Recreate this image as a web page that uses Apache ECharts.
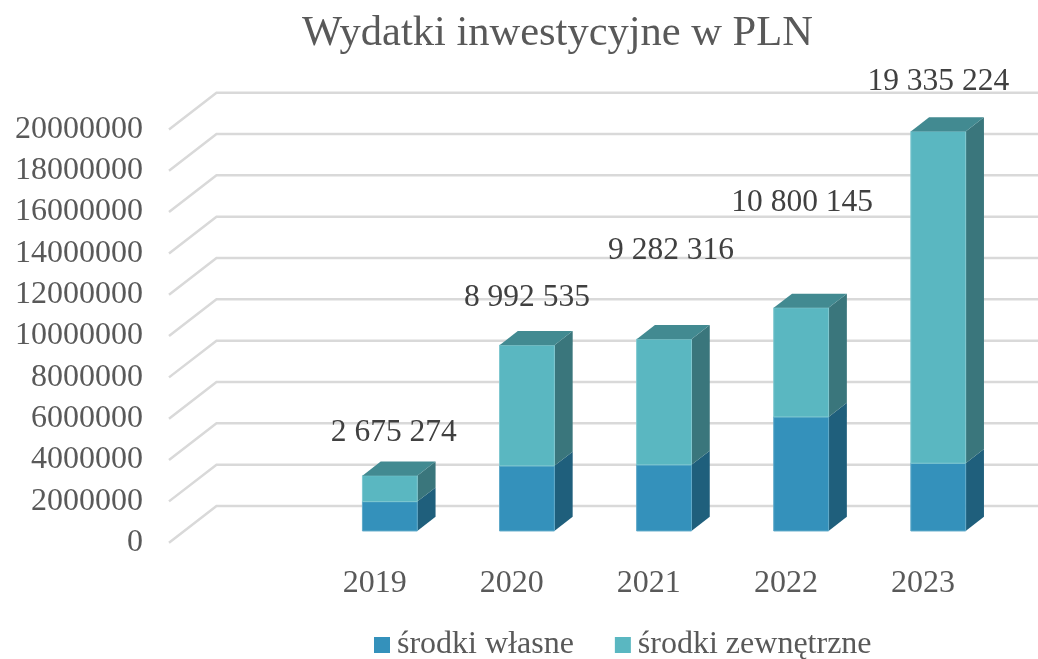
<!DOCTYPE html>
<html><head><meta charset="utf-8">
<style>html,body{margin:0;padding:0;background:#fff}#c{width:1038px;height:659px}</style>
<script src="https://cdn.jsdelivr.net/npm/echarts@6/dist/echarts.min.js"></script>
</head><body><div id="c"></div>
<script>
// data
const titleText = 'Wydatki inwestycyjne w PLN';
const categories = ['', '2019', '2020', '2021', '2022', '2023'];
const valueTicks = [0, 2000000, 4000000, 6000000, 8000000, 10000000, 12000000, 14000000, 16000000, 18000000, 20000000];
const srodkiWlasne = [1420000, 3150000, 3200000, 5520000, 3280000];
const totals = [2675274, 8992535, 9282316, 10800145, 19335224];
const srodkiZewnetrzne = [1255274, 5842535, 6082316, 5280145, 16055224];
const ownName = 'środki własne';
const extName = 'środki zewnętrzne';

// layout of the pseudo-3D box
const FONT = '"Liberation Serif"';
const depthX = 47.5, depthY = -36.7;      // floor depth vector
const barOffset = 0.32, barDepth = 0.385; // bar placement along the floor depth
const barWidthRatio = 0.4;
const labelNudge = [[4, -43], [0, -47], [7, -88], [1, -105], [0, -50]];

const fmt = v => String(v).replace(/\B(?=(\d{3})+$)/g, ' ');

function boxItem(colors, withTop) {
  return function (params, api) {
    const idx = api.value(0), lo = api.coord([idx, api.value(1)]), hi = api.coord([idx, api.value(2)]);
    const w = api.size([1, 0])[0] * barWidthRatio;
    const ox = depthX * barOffset, oy = depthY * barOffset;
    const dx = depthX * barDepth, dy = depthY * barDepth;
    const l = lo[0] + ox - w / 2, r = l + w, b = lo[1] + oy, t = hi[1] + oy;
    const kids = [
      { type: 'polygon', shape: { points: [[r, b], [r + dx, b + dy], [r + dx, t + dy], [r, t]] },
        style: { fill: colors.side } },
      { type: 'rect', shape: { x: l, y: t, width: w, height: b - t },
        style: { fill: colors.front, stroke: colors.edge, lineWidth: 1 } }
    ];
    if (withTop) kids.push({ type: 'polygon',
      shape: { points: [[l, t], [r, t], [r + dx, t + dy], [l + dx, t + dy]] },
      style: { fill: colors.top } });
    return { type: 'group', children: kids };
  };
}

const cOwn = { front: '#3491bb', side: '#1f5f7c', edge: '#5fa9c9', top: '#226c8c' };
const cExt = { front: '#5ab7c1', side: '#3a767c', edge: '#7fc8d0', top: '#428a91' };

const ownData = srodkiWlasne.map((v, i) => [i + 1, 0, v]);
const extData = srodkiZewnetrzne.map((v, i) => [i + 1, srodkiWlasne[i], srodkiWlasne[i] + v]);
const labelData = totals.map((v, i) => [i + 1, v, i]);

const chart = echarts.init(document.getElementById('c'), null, { renderer: 'canvas' });
chart.setOption({
  animation: false,
  backgroundColor: '#fff',
  title: { text: titleText, left: 297, top: 7,
    textStyle: { fontFamily: FONT, fontSize: 42.5, fontWeight: 'normal', color: '#595959' } },
  legend: { data: [ownName, extName], left: 369, top: 624, icon: 'rect', itemWidth: 16, itemHeight: 16,
    itemGap: 41, textStyle: { fontFamily: FONT, fontSize: 32, color: '#595959', padding: [2, 0, 0, 2] } },
  grid: { left: 169, top: 129.4, width: 822.6, height: 413.3 },
  xAxis: { type: 'category', data: categories,
    axisLine: { show: false }, axisTick: { show: false },
    axisLabel: { interval: 0, margin: 25, fontFamily: FONT, fontSize: 32, color: '#595959' } },
  yAxis: { type: 'value', min: 0, max: 20000000, interval: 2000000,
    axisLine: { show: false }, axisTick: { show: false }, splitLine: { show: false },
    axisLabel: { margin: 26, fontFamily: FONT, fontSize: 32, color: '#595959', padding: [0, 0, 2, 0],
      formatter: v => String(v) } },
  series: [
    { type: 'custom', name: 'grid', silent: true, clip: false, z: 1,
      data: valueTicks.map(v => [0, v]), encode: { x: 0, y: 1 },
      renderItem(params, api) {
        const y = api.coord([0, api.value(1)])[1];
        const x0 = params.coordSys.x, x1 = x0 + params.coordSys.width;
        return { type: 'polyline',
          shape: { points: [[x0, y], [x0 + depthX, y + depthY], [x1 + depthX, y + depthY]] },
          style: { fill: 'none', stroke: '#d9d9d9', lineWidth: 2.5 } };
      } },
    { type: 'custom', name: ownName, clip: false, z: 2, itemStyle: { color: cOwn.front },
      data: ownData, encode: { x: 0, y: [1, 2] }, renderItem: boxItem(cOwn, false) },
    { type: 'custom', name: extName, clip: false, z: 3, itemStyle: { color: cExt.front },
      data: extData, encode: { x: 0, y: [1, 2] }, renderItem: boxItem(cExt, true) },
    { type: 'custom', name: 'razem', silent: true, clip: false, z: 4,
      data: labelData, encode: { x: 0, y: 1 },
      renderItem(params, api) {
        const p = api.coord([api.value(0), api.value(1)]);
        const n = labelNudge[api.value(2)];
        return { type: 'text', style: {
          text: fmt(api.value(1)), font: '31.5px ' + FONT, fill: '#404040', align: 'center', verticalAlign: 'middle',
          x: p[0] + depthX * barOffset + n[0], y: p[1] + depthY * barOffset + n[1] } };
      } }
  ]
});
</script></body></html>
